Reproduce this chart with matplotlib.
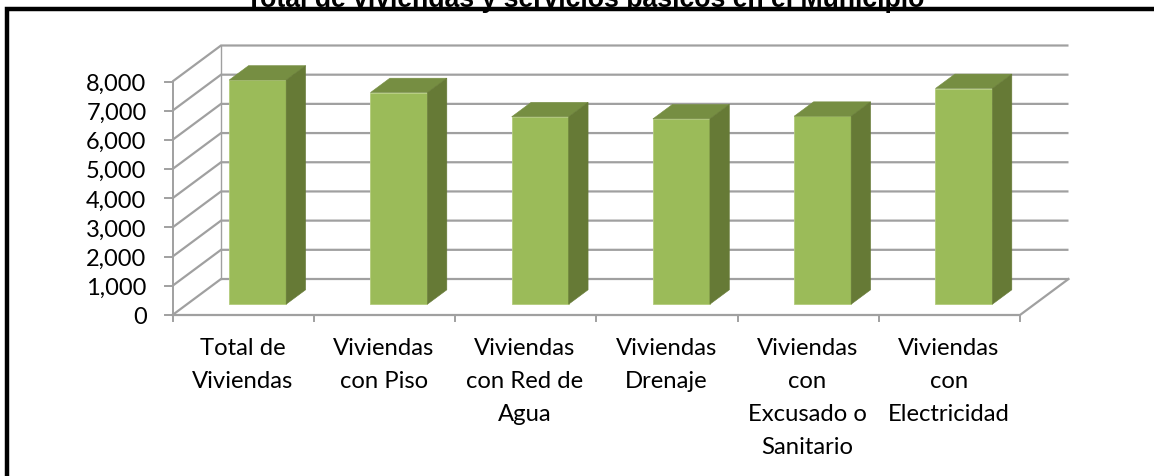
import matplotlib
matplotlib.use('Agg')
import matplotlib.pyplot as plt
from matplotlib.patches import Polygon, Rectangle

categories = ['Total de\nViviendas', 'Viviendas\ncon Piso', 'Viviendas\ncon Red de\nAgua',
              'Viviendas\nDrenaje', 'Viviendas\ncon\nExcusado o\nSanitario', 'Viviendas\ncon\nElectricidad']
values = [7680, 7250, 6420, 6350, 6440, 7390]
y_ticks = [0, 1000, 2000, 3000, 4000, 5000, 6000, 7000, 8000]
title = 'Total de viviendas y servicios básicos en el Municipio'

W, H = 1154, 477
GRAY = '#a0a0a0'
FRONT = '#9bbb59'
TOP = '#768e42'
SIDE = '#667a36'

plt.rcParams['font.family'] = ['Lato', 'DejaVu Sans']

fig = plt.figure(figsize=(W / 100, H / 100), dpi=100, facecolor='white')

# axes = plano frontal del grafico 3D
x0, x1, y_base, y_top = 172.5, 1020, 316, 82.5
ax = fig.add_axes([x0 / W, 1 - y_base / H, (x1 - x0) / W, (y_base - y_top) / H])
ax.set_xlim(0, len(categories))
ax.set_ylim(0, 8000)
ax.axis('off')

# profundidad del piso, en unidades de datos
dx = 48.5 / ((x1 - x0) / len(categories))
dy = 36 / ((y_base - y_top) / 8000)

# pared de atras, piso y lineas oblicuas
for v in y_ticks:
    ax.plot([0, dx, len(categories) + dx], [v, v + dy, v + dy], color=GRAY, lw=1.6,
            clip_on=False, solid_capstyle='butt', solid_joinstyle='miter', zorder=1)
ax.plot([0, 0], [0, 8000], color=GRAY, lw=1.4, clip_on=False, zorder=1)
ax.plot([dx, dx], [dy, 8000 + dy], color=GRAY, lw=1.0, clip_on=False, zorder=1)
ax.plot([0, len(categories), len(categories) + dx], [0, 0, dy], color=GRAY, lw=1.6,
        clip_on=False, solid_joinstyle='miter', zorder=1)

# marcas de los ejes
for v in y_ticks:
    ax.plot([-7.5 * len(categories) / (x1 - x0), 0], [v, v], color=GRAY, lw=1.4, clip_on=False, zorder=1)
    ax.text(-26 * len(categories) / (x1 - x0), v - 60, f'{v:,}', ha='right', va='center', fontsize=17, color='black')
for i in range(len(categories) + 1):
    ax.plot([i, i], [0, -220], color=GRAY, lw=1.4, clip_on=False, zorder=1)

# barras: cara frontal con ax.bar, lados con poligonos
bar_w = 57 / ((x1 - x0) / len(categories))
shift_x = 0.3 * dx
shift_y = 0.3 * dy
depth_x = 0.4 * dx
depth_y = 0.4 * dy
for i, (cat, val) in enumerate(zip(categories, values)):
    left = i + 0.5 + shift_x - bar_w / 2
    right = left + bar_w
    ax.bar(left, val, bar_w, bottom=shift_y, align='edge', color=FRONT, edgecolor='#b3cc7c',
           linewidth=0.6, zorder=3, clip_on=False)
    top = val + shift_y
    ax.add_patch(Polygon([(left, top), (right, top), (right + depth_x, top + depth_y), (left + depth_x, top + depth_y)],
                         closed=True, facecolor=TOP, edgecolor=TOP, lw=0.4, zorder=3, clip_on=False))
    ax.add_patch(Polygon([(right, shift_y), (right + depth_x, shift_y + depth_y), (right + depth_x, top + depth_y), (right, top)],
                         closed=True, facecolor=SIDE, edgecolor=SIDE, lw=0.4, zorder=3, clip_on=False))
    ax.text(i + 0.495, -770, cat, ha='center', va='top', fontsize=17.2, color='black', linespacing=1.7)

# marco negro de la imagen
fig.add_artist(Rectangle((7 / W, -0.02), 1.1, 1 - 10 / H + 0.02, transform=fig.transFigure,
                         fill=False, edgecolor='black', linewidth=3.2))
fig.text(585.5 / W, 1 - 7 / H, title, ha='center', va='baseline', fontsize=19.2, fontweight='bold',
         family=['Liberation Sans', 'DejaVu Sans'], color='black')

fig.savefig('out.png', dpi=100, facecolor='white')
